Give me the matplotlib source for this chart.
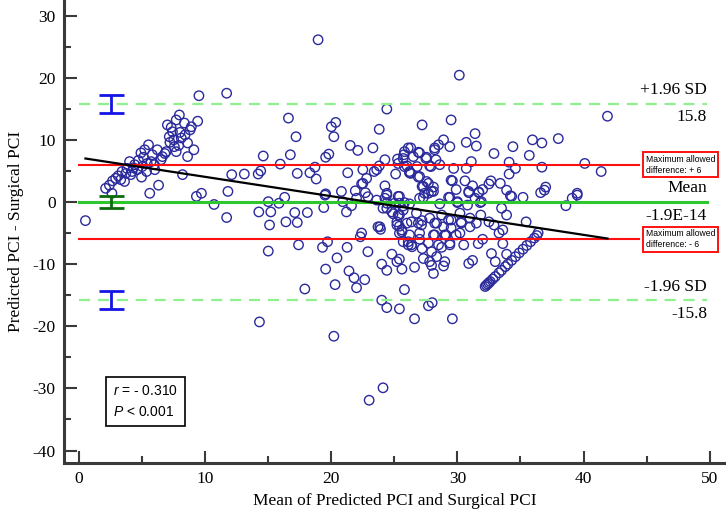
import numpy as np
import matplotlib
matplotlib.use("Agg")
import matplotlib.pyplot as plt

# ---------------- data ----------------
mean_pci = [
    0.5, 2.1, 2.4, 2.65, 2.6, 3.1, 3.6, 3.4, 3.8, 4.1, 4.0, 4.4, 4.6, 4.95, 4.9, 5.2, 5.0, 5.35, 5.5, 5.7,
    5.96, 6.2, 5.6, 6.3, 6.6, 6.9, 7.0, 7.15, 7.4, 7.55, 7.7, 7.7, 7.95, 8.1, 8.2, 8.35, 8.6, 8.6, 8.8, 8.9,
    9.1, 9.4, 9.3, 9.7, 9.5, 11.7, 11.8, 12.1, 10.7, 11.7,
    2.9, 3.3, 4.3, 4.7, 5.1, 5.4, 5.8, 6.0, 6.5, 7.2, 7.5, 7.3, 8.0, 8.4, 7.9, 4.2, 3.7, 6.8,
    18.95, 24.4, 16.6, 20.35, 20.0, 23.8, 17.2, 20.2, 21.5, 22.1, 23.3, 14.6, 16.75, 19.8, 19.55, 26.1, 25.75, 25.25, 24.25, 15.95,
    18.7, 23.8, 23.6, 25.8, 13.1, 14.2, 14.4, 17.3, 18.3, 18.8, 21.3, 22.5, 23.4, 25.1, 26.2, 22.8, 22.4, 21.9, 22.7, 24.25,
    20.8, 19.55, 24.4, 25.3, 15.0, 15.85, 16.3, 22.0, 25.8,
    14.25, 15.2, 15.1, 17.1, 18.1, 16.4, 17.3, 19.5, 19.4, 20.9, 21.2, 21.6, 24.25, 24.4, 24.9, 25.7, 25.2, 25.4, 23.7, 23.9,
    22.3, 22.4, 25.6, 25.7, 26.1, 17.4, 19.7, 19.3, 21.25, 22.9, 15.0, 20.45, 24.8, 24.0, 24.4, 25.2, 25.4, 25.6, 19.55, 21.4,
    21.8, 22.65, 22.0, 20.3, 17.9, 25.8, 24.0, 24.4, 25.4, 14.3, 20.2, 23.0, 24.1, 26.6, 27.7, 28.0, 29.6,
    30.15, 29.5, 27.2, 31.4, 30.7, 31.5, 28.9, 28.5, 28.2, 29.4, 26.3, 26.9, 27.5, 28.3, 35.95, 36.7, 38.0, 34.4, 32.9, 35.7,
    31.1, 34.1, 26.0, 26.8, 27.9, 29.7, 30.7, 34.6, 36.7, 26.3, 26.9, 27.55, 29.6, 30.6, 34.1, 32.65, 32.5, 33.4, 27.2, 28.1,
    29.9, 31.2, 32.0, 31.7, 33.9, 27.7, 30.9, 37.0, 36.9, 36.6, 35.2, 34.3, 29.3, 27.0, 31.9, 30.0, 28.6, 30.8, 25.4, 39.5,
    39.1, 38.6, 40.1, 41.4, 41.9, 39.5,
    22.5, 25.7, 25.8, 26.5, 27.0, 27.55, 28.2, 25.3, 26.2, 27.0, 27.7, 27.3, 27.95, 27.4, 28.6, 27.8, 29.5, 31.4, 22.9, 23.6,
    24.4, 24.4, 25.0, 26.2, 24.1, 24.8, 25.3, 23.85, 25.2, 25.6, 26.35, 26.75, 27.15, 27.8, 28.35, 28.75, 29.3, 29.5, 30.3, 30.2,
    31.0, 31.5, 29.9, 29.0, 28.2, 27.0, 26.1, 26.35, 28.5, 29.4, 30.5, 25.4,
    27.3, 28.1, 29.4, 30.0, 31.8, 30.9, 31.7, 34.2, 33.5, 33.9, 31.85, 32.5, 32.9, 33.3, 33.6, 35.45, 36.4, 25.7, 25.4, 26.0,
    26.9, 27.2, 28.2, 28.9, 29.5, 30.3, 31.0, 25.4, 26.2, 27.0, 28.1, 29.1, 30.2, 27.7, 26.4, 27.2, 27.95, 29.4, 28.75, 28.35,
    29.0, 28.9, 27.8, 27.3, 27.95, 28.1, 26.6, 31.65, 32.0, 30.9, 31.2, 32.7, 33.0, 33.6, 33.9,
    32.2, 32.3, 32.4, 32.5, 32.6, 32.8, 33.0, 33.3, 33.5, 33.8, 34.0, 34.3, 34.6, 34.9, 35.2, 35.5, 35.8, 36.1, 36.3,
]
diff_pci = [
    -3.0, 2.2, 2.7, 3.4, 1.4, 4.2, 3.3, 4.9, 5.4, 4.4, 6.5, 6.0, 5.2, 4.0, 7.9, 8.4, 5.7, 4.9, 9.2, 6.5,
    6.0, 8.4, 1.4, 2.7, 7.3, 8.1, 12.4, 10.5, 11.3, 8.9, 13.2, 8.1, 14.0, 10.3, 4.4, 12.7, 9.5, 7.3, 11.6, 12.1,
    8.4, 13.0, 0.9, 1.4, 17.1, 17.5, 1.7, 4.4, -0.4, -2.5,
    3.8, 3.6, 5.5, 6.7, 7.2, 6.2, 7.6, 5.2, 6.8, 9.6, 10.0, 12.0, 11.2, 10.8, 9.1, 4.9, 4.6, 7.8,
    26.1, 14.95, 13.5, 12.8, 12.1, 11.7, 10.5, 10.5, 9.1, 8.3, 8.7, 7.4, 7.6, 7.7, 7.2, 8.7, 7.6, 6.9, 6.8, 6.1,
    5.6, 5.8, 5.2, 5.7, 4.5, 4.5, 5.0, 4.6, 4.7, 3.7, 4.7, 5.2, 4.9, 4.5, 4.7, 3.8, 2.9, 1.8, 1.5, 2.6,
    1.7, 1.3, 1.1, 0.9, 0.05, -0.2, 0.75, 0.6, -0.1,
    -1.6, -1.6, -3.7, -1.7, -1.7, -3.2, -3.3, 1.1, -0.9, 0.05, -1.6, -0.6, 0.6, -1.0, -1.9, -1.3, -3.2, -3.9, -4.0, -4.4,
    -5.6, -5.0, -4.8, -6.4, -6.9, -6.9, -6.4, -7.3, -7.3, -8.0, -7.9, -9.0, -8.4, -10.0, -11.0, -9.6, -9.2, -10.8, -10.8, -11.1,
    -12.2, -12.5, -13.8, -13.3, -14.0, -14.1, -15.8, -17.0, -17.2, -19.3, -21.6, -31.9, -29.9, -18.8, -16.7, -16.2, -18.8,
    20.4, 13.2, 12.4, 11.0, 9.6, 9.0, 10.0, 9.2, 8.7, 8.9, 8.7, 8.0, 7.0, 6.8, 10.0, 9.5, 10.2, 8.9, 7.8, 7.5,
    6.5, 6.4, 5.8, 5.7, 5.7, 5.4, 5.4, 5.4, 5.6, 4.6, 4.0, 3.3, 3.4, 3.4, 4.5, 3.4, 2.9, 3.0, 2.5, 2.4,
    2.0, 2.6, 2.0, 1.6, 1.9, 1.4, 1.7, 2.4, 1.9, 1.5, 0.75, 0.9, 0.75, 0.6, 0.05, 0.05, -0.3, -0.5, 0.9, 1.1,
    0.6, -0.6, 6.2, 4.9, 13.8, 1.4,
    3.0, 7.0, 8.1, 7.3, 7.9, 7.2, 8.4, 6.2, 4.9, 4.1, 3.0, 2.5, 1.7, 1.4, 6.0, 5.8, 3.5, 0.6, 0.85, 0.3,
    1.4, -0.2, -0.2, -0.3, -1.0, -1.6, -2.1, -4.0, -3.7, -4.5, -3.2, -1.8, -3.7, -2.6, -3.4, -2.1, -2.9, -4.2, -3.4, -1.8,
    -2.6, -3.4, -5.3, -5.3, -5.3, -5.0, -6.4, -6.9, -6.9, -6.6, -6.9, -0.2,
    0.75, 1.7, 0.75, -0.1, -0.1, 1.5, 1.5, 1.0, -1.0, -2.1, -2.1, -3.2, -3.7, -5.0, -4.5, -3.2, -4.95, -0.65, -2.1, -3.4,
    -3.4, -3.0, -3.4, -4.0, -2.9, -3.2, -4.0, -5.0, -5.3, -6.0, -5.3, -5.3, -5.0, -6.6, -7.2, -7.5, -8.0, -6.9, -7.3, -8.8,
    -9.6, -10.3, -9.6, -9.1, -10.2, -11.5, -10.5, -6.7, -6.0, -9.9, -9.4, -8.3, -9.6, -6.7, -8.4,
    -13.6, -13.4, -13.2, -13.0, -12.8, -12.4, -12.0, -11.4, -11.0, -10.4, -10.0, -9.4, -8.8, -8.2, -7.6, -7.0, -6.4, -5.8, -5.4,
]

mean_diff = -1.9e-14
upper_loa = 15.8
lower_loa = -15.8
max_allowed = 6
loa_ci_half = 1.45
mean_ci_half = 0.9
reg_intercept = 7.15
reg_slope = -0.311
right_labels = [("+1.96 SD", "15.8"), ("Mean", "-1.9E-14"), ("-1.96 SD", "-15.8")]
stats_text = [r"$r$ = - 0.310", r"$P$ < 0.001"]

# ---------------- style ----------------
plt.rcParams["font.family"] = ["Liberation Serif", "DejaVu Serif"]
plt.rcParams["axes.unicode_minus"] = False
plt.rcParams["mathtext.fontset"] = "custom"
plt.rcParams["mathtext.it"] = "Liberation Sans:italic"
plt.rcParams["mathtext.rm"] = "Liberation Sans"

fig = plt.figure(figsize=(7.26, 5.16), dpi=100)
ax = fig.add_axes([64 / 726, 53 / 516, 662 / 726, 463 / 516])

x = np.array(mean_pci)
y = np.array(diff_pci)

ax.scatter(x, y, s=46, facecolors="none", edgecolors="#2a2a9c", linewidths=1.0, zorder=3)

# horizontal reference lines
ax.plot([0, 49.8], [mean_diff, mean_diff], color="#2ec82e", lw=2.2, zorder=4)
ax.plot([0, 49.8], [upper_loa, upper_loa], color="#90f090", lw=1.6, ls=(0, (5, 3.5)), zorder=4)
ax.plot([0, 49.8], [lower_loa, lower_loa], color="#90f090", lw=1.6, ls=(0, (5, 3.5)), zorder=4)
ax.plot([0, 44.4], [max_allowed, max_allowed], color="#ff1010", lw=1.5, zorder=4)
ax.plot([0, 44.4], [-max_allowed, -max_allowed], color="#ff1010", lw=1.5, zorder=4)

# regression line
xr = np.array([x.min(), x.max()])
ax.plot(xr, reg_intercept + reg_slope * xr, color="black", lw=1.6, zorder=5)

# confidence interval bars
ax.errorbar([2.5], [upper_loa], yerr=[loa_ci_half], color="#1414e6", lw=2, capsize=9, capthick=2, zorder=5)
ax.errorbar([2.5], [lower_loa], yerr=[loa_ci_half], color="#1414e6", lw=2, capsize=9, capthick=2, zorder=5)
ax.errorbar([2.5], [mean_diff], yerr=[mean_ci_half], color="#0b6b0b", lw=2, capsize=9, capthick=2, zorder=5)

# right labels
for (top, bot), yv in zip(right_labels, [upper_loa, mean_diff, lower_loa]):
    ax.annotate(top, (49.8, yv), xytext=(0, 4), textcoords="offset points",
                ha="right", va="bottom", fontsize=12.5)
    ax.annotate(bot, (49.8, yv), xytext=(0, -4), textcoords="offset points",
                ha="right", va="top", fontsize=12.5)

# max allowed difference boxes
for yv, lab in [(max_allowed, "Maximum allowed\ndifference: + 6"), (-max_allowed, "Maximum allowed\ndifference: - 6")]:
    ax.text(44.95, yv, lab, ha="left", va="center", fontsize=6.2, family="Liberation Sans",
            linespacing=1.25, zorder=6,
            bbox=dict(boxstyle="square,pad=0.3", fc="white", ec="#ff1010", lw=1.4))

# r / P box
ax.text(2.7, -32.1, "\n".join(stats_text), ha="left", va="center", fontsize=10,
        family="Liberation Sans", linespacing=1.6, zorder=6,
        bbox=dict(boxstyle="square,pad=0.5", fc="white", ec="black", lw=1.2))

# axes
ax.set_xlim(-1.2, 51.3)
ax.set_ylim(-42, 32.5)
ax.set_xticks(np.arange(0, 51, 10))
ax.set_xticks(np.arange(5, 51, 10), minor=True)
ax.set_yticks(np.arange(-40, 31, 10))
ax.set_yticks(np.arange(-35, 31, 10), minor=True)
for s in ["top", "right"]:
    ax.spines[s].set_visible(False)
for s in ["left", "bottom"]:
    ax.spines[s].set_color("#3a3a3a")
    ax.spines[s].set_linewidth(2.2)
ax.tick_params(which="major", direction="in", length=9, width=1.5, color="#3a3a3a",
               labelsize=12.5, pad=6)
ax.tick_params(which="minor", direction="in", length=5, width=1.5, color="#3a3a3a")
ax.set_xlabel("Mean of Predicted PCI and Surgical PCI", fontsize=12.5, labelpad=4)
ax.set_ylabel("Predicted PCI - Surgical PCI", fontsize=12.5, labelpad=6)
ax.patch.set_alpha(0)

fig.savefig("out.png", dpi=100)
